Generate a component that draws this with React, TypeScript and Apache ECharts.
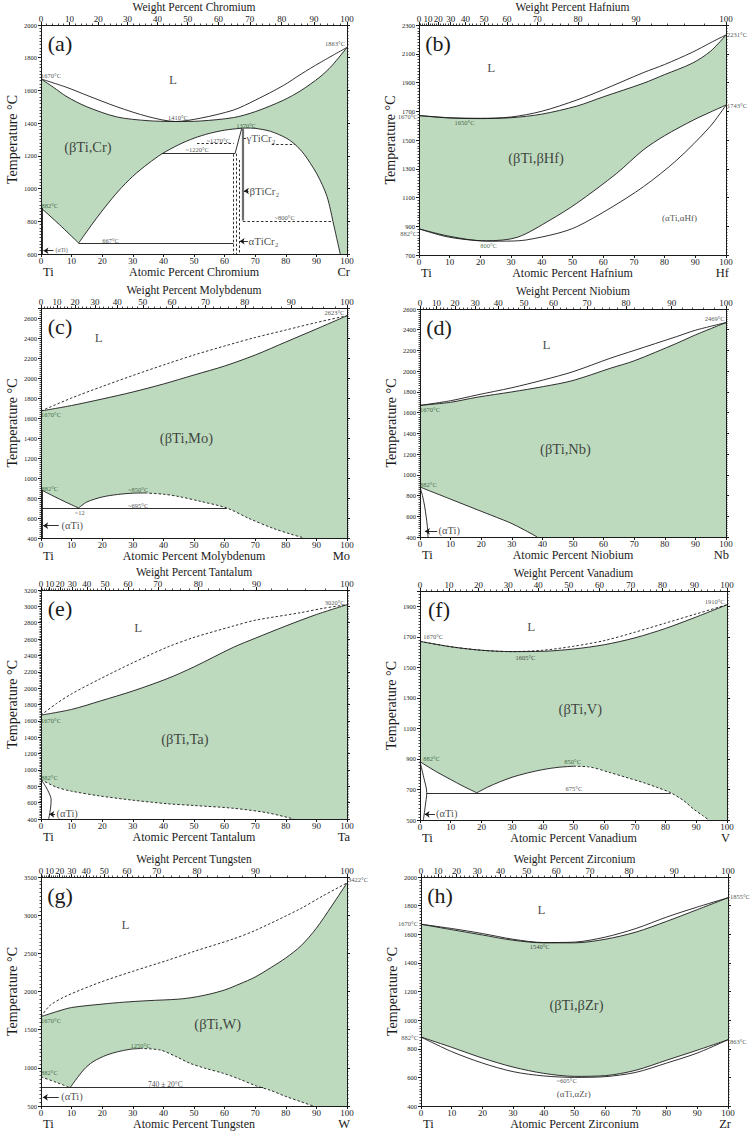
import React, { useEffect, useRef } from "react";
import * as echarts from "echarts";

type Pt = [number, number];
type Seg = [Pt, Pt, string?];
type Note = [number, number, string, string, string];
type Curve = { d: Pt[]; line?: "s" | "d"; area?: "g" | "w" };

const FONT = "'Liberation Serif', 'Times New Roman', serif";
const GREEN = "#bdd9be";
const INK = "#1a1a1a";
const DKGREEN = "#1f4a22";
const TI_MASS = 47.867;
const WEIGHT_LABELS = [0, 10, 20, 30, 40, 50, 60, 70, 80, 90, 100];
const WEIGHT_MINOR = Array.from({ length: 51 }, (_, i) => i * 2);

// ---------------- (a) Ti–Cr ----------------
const crLiquidus: Pt[] = [[0, 1670], [8.5, 1618], [15, 1570], [24.8, 1500], [35, 1440], [44, 1410], [52, 1430], [62.9, 1480], [70, 1540], [79.2, 1630], [85, 1700], [91.2, 1770], [100, 1863]];
const crSolidus: Pt[] = [[0, 1670], [4, 1620], [8.5, 1561], [15, 1500], [24.8, 1438], [35, 1415], [44, 1410], [52, 1413], [62.9, 1434], [70, 1470], [79.2, 1540], [85, 1600], [91.2, 1683], [95, 1750], [100, 1863]];
const crTransus: Pt[] = [[0, 882], [6, 780], [12.3, 667]];
const crDome: Pt[] = [[12.3, 667], [15, 738], [18, 815], [21, 888], [25.3, 985], [30, 1075], [35, 1152], [39.5, 1212], [45, 1268], [50, 1308], [55, 1337], [60, 1357], [65, 1368], [67, 1370], [70, 1368], [75, 1350], [80, 1310], [83, 1270], [86, 1210], [88, 1155], [90, 1095], [92, 1020], [93.5, 950], [94.6, 870], [95.4, 800], [96.6, 700], [97.8, 600]];
const crSegments: Seg[] = [
  [[0.4, 882], [0.4, 600]],
  [[12.3, 665], [62.9, 665]],
  [[39.5, 1213], [63.4, 1213]],
  [[63.4, 1213], [65.6, 1368]],
  [[66, 1368], [66, 805], "b"],
  [[66, 803], [95.4, 803], "d"],
  [[51, 1275], [63, 1275], "d"],
  [[75.4, 1271], [83, 1271], "d"],
  [[62.9, 1210], [62.9, 600], "d"],
  [[63.7, 1213], [63.7, 600], "d"],
  [[64.8, 1175], [64.8, 600], "d"],
  [[66.2, 1306], [67, 1306]],
];
const crArrows: Seg[] = [[[4.1, 620], [0.8, 620]], [[67.8, 985], [66.3, 985]], [[67.6, 678], [64.9, 678]]];
const crNotes: Note[] = [
  [0.2, 1690, "1670°C", "s", "left"], [99.5, 1885, "1863°C", "s", "right"], [44.9, 1432, "1410°C", "s", "center"],
  [67.2, 1383, "1370°C", "g", "center"], [58.1, 1290, "~1270°C", "s", "center"], [51.2, 1234, "~1220°C", "s", "center"],
  [0.3, 893, "882°C", "g", "left"], [79.8, 818, "~800°C", "s", "center"], [22.9, 680, "667°C", "s", "center"],
  [4.9, 620, "(αTi)", "a6", "left"], [67.3, 1306, "γTiCr₂", "cr", "left"], [68.3, 985, "βTiCr₂", "cr", "left"],
  [68, 678, "αTiCr₂", "cr", "left"], [43.3, 1663, "L", "L", "center"], [15.5, 1254, "(βTi,Cr)", "ph", "center"],
];

// ---------------- (b) Ti–Hf ----------------
const hfLiquidus: Pt[] = [[0, 1670], [10, 1655], [20, 1651], [30, 1660], [40, 1700], [51.4, 1778], [60, 1850], [73, 1968], [80, 2025], [89, 2110], [95, 2177], [100, 2231]];
const hfSolidus: Pt[] = [[0, 1670], [10, 1653], [20, 1649], [30, 1655], [40, 1680], [51.4, 1736], [60, 1800], [73, 1894], [80, 1955], [89, 2034], [95, 2118], [100, 2231]];
const hfBetaTransus: Pt[] = [[0, 882], [8, 832], [15, 808], [22, 799], [32, 823], [42.7, 943], [51.4, 1060], [64.4, 1268], [73, 1430], [80, 1530], [89.4, 1639], [95, 1695], [100, 1743]];
const hfAlphaTransus: Pt[] = [[0, 882], [10, 830], [22, 796], [30, 797], [35, 805], [45, 850], [51.4, 897], [62.2, 1025], [73.1, 1175], [84, 1361], [94.8, 1593], [100, 1743]];
const hfNotes: Note[] = [
  [-0.3, 1662, "1670°C", "s", "right"], [15, 1620, "1650°C", "g", "center"], [-0.5, 848, "882°C", "s", "right"],
  [22.8, 765, "800°C", "g", "center"], [100.5, 2230, "2231°C", "s", "left"], [100.5, 1736, "1743°C", "s", "left"],
  [23.7, 1999, "L", "L", "center"], [38.3, 1372, "(βTi,βHf)", "ph", "center"], [85, 955, "(αTi,αHf)", "it", "center"],
];

// ---------------- (c) Ti–Mo ----------------
const moLiquidus: Pt[] = [[0, 1670], [10, 1800], [20, 1915], [30, 2025], [41, 2140], [50, 2230], [60, 2320], [70, 2405], [80, 2480], [90, 2555], [100, 2623]];
const moSolidus: Pt[] = [[0, 1670], [10, 1725], [20, 1790], [30, 1860], [40, 1940], [50, 2030], [60, 2120], [70, 2230], [80, 2360], [90, 2490], [100, 2623]];
const moTransus: Pt[] = [[0, 882], [4, 820], [8, 760], [12.3, 700]];
const moDomeSolid: Pt[] = [[12.3, 700], [15, 760], [20, 810], [25, 835], [30, 848], [34, 850]];
const moDomeDashed: Pt[] = [[34, 850], [40, 838], [45, 815], [52, 767], [60.7, 700], [68, 595], [76, 495], [82, 435], [86, 400]];
const moSegments: Seg[] = [[[0.5, 882], [0.5, 400]], [[0.5, 697], [60.7, 697]]];
const moArrows: Seg[] = [[[5.8, 523], [0.7, 523]]];
const moNotes: Note[] = [
  [99.3, 2650, "2623°C", "s", "right"], [0.2, 1633, "1670°C", "g", "left"], [0.3, 890, "882°C", "g", "left"],
  [31.9, 883, "~850°C", "g", "center"], [31.9, 723, "~695°C", "s", "center"], [12.8, 650, "~12", "s", "center"],
  [6.9, 523, "(αTi)", "a", "left"], [19, 2400, "L", "L", "center"], [47.7, 1400, "(βTi,Mo)", "ph", "center"],
];

// ---------------- (d) Ti–Nb ----------------
const nbLiquidus: Pt[] = [[0, 1670], [10, 1715], [18.7, 1771], [30, 1840], [40.4, 1916], [50, 1995], [62.2, 2125], [70, 2200], [83.9, 2334], [90, 2395], [100, 2469]];
const nbSolidus: Pt[] = [[0, 1670], [10, 1700], [18.7, 1749], [30, 1800], [40.4, 1852], [50, 1910], [62.2, 2028], [70, 2100], [83.9, 2269], [90, 2350], [100, 2469]];
const nbTransus: Pt[] = [[0, 882], [10, 765], [18.7, 663], [25, 590], [29.6, 535], [34, 470], [38.3, 400]];
const nbAlpha: Pt[] = [[0, 882], [0.8, 800], [1.5, 700], [2, 600], [2.4, 500], [2.6, 400]];
const nbArrows: Seg[] = [[[5.6, 455], [1.6, 455]]];
const nbNotes: Note[] = [
  [99.7, 2501, "2469°C", "s", "right"], [0.2, 1627, "1670°C", "g", "left"], [0.2, 904, "882°C", "g", "left"],
  [41.5, 2253, "L", "L", "center"], [47.7, 1241, "(βTi,Nb)", "ph", "center"], [6.2, 455, "(αTi)", "a", "left"],
];

// ---------------- (e) Ti–Ta ----------------
const taLiquidus: Pt[] = [[0, 1670], [5, 1810], [10, 1930], [19.4, 2115], [30, 2310], [41.2, 2500], [50, 2620], [62.9, 2760], [70, 2830], [84.7, 2922], [92, 2975], [100, 3020]];
const taSolidus: Pt[] = [[0, 1670], [10, 1740], [19.4, 1843], [30, 1965], [41.2, 2115], [50, 2260], [62.9, 2500], [70, 2610], [80, 2760], [90, 2900], [100, 3020]];
const taTransus: Pt[] = [[0, 882], [5, 790], [10, 740], [19.4, 681], [30, 630], [41.2, 587], [50, 565], [62.9, 531], [73.8, 477], [82.6, 400]];
const taAlpha: Pt[] = [[0, 882], [1.5, 800], [2.6, 720], [3.3, 640], [3.2, 560], [2.9, 480], [2.5, 400]];
const taArrows: Seg[] = [[[4.6, 457], [2.7, 457]]];
const taNotes: Note[] = [
  [99.4, 3037, "3020°C", "s", "right"], [0.2, 1598, "1670°C", "g", "left"], [0.2, 905, "882°C", "g", "left"],
  [31.9, 2739, "L", "L", "center"], [47.2, 1374, "(βTi,Ta)", "ph", "center"], [5.2, 457, "(αTi)", "a", "left"],
];

// ---------------- (f) Ti–V ----------------
const vLiquidus: Pt[] = [[0, 1670], [10, 1635], [20, 1612], [30, 1603], [40, 1612], [50, 1638], [60, 1675], [70, 1730], [80, 1790], [90, 1850], [100, 1910]];
const vSolidus: Pt[] = [[0, 1670], [10, 1635], [20, 1612], [30, 1603], [40, 1605], [50, 1620], [60, 1648], [70, 1693], [80, 1755], [90, 1830], [100, 1910]];
const vTransus: Pt[] = [[0, 882], [5, 820], [10, 765], [14, 722], [18.5, 678]];
const vDomeSolid: Pt[] = [[18.5, 678], [22, 715], [26, 750], [30, 780], [35, 808], [40, 830], [45, 845], [50, 852]];
const vDomeDashed: Pt[] = [[50, 852], [55, 848], [62, 810], [67, 780], [72.9, 744], [77, 715], [81.6, 679], [86, 625], [89.2, 570], [92, 530], [94.1, 500]];
const vAlpha: Pt[] = [[0, 882], [1.2, 780], [2.2, 679], [1.7, 590], [1.1, 500]];
const vSegments: Seg[] = [[[2.2, 675], [81.6, 675]]];
const vArrows: Seg[] = [[[4.9, 537], [1.5, 537]]];
const vNotes: Note[] = [
  [99.4, 1928, "1910°C", "s", "right"], [1.2, 1699, "1670°C", "s", "left"], [34.5, 1563, "1605°C", "s", "center"],
  [1.2, 901, "882°C", "g", "left"], [49.9, 880, "850°C", "g", "center"], [50.3, 701, "675°C", "s", "center"],
  [36.4, 1766, "L", "L", "center"], [52.4, 1225, "(βTi,V)", "ph", "center"], [5.4, 537, "(αTi)", "a", "left"],
];

// ---------------- (g) Ti–W ----------------
const wLiquidus: Pt[] = [[0, 1670], [3, 1820], [8.5, 1945], [19.3, 2120], [30, 2265], [41, 2404], [50, 2525], [62.8, 2688], [70, 2800], [84.6, 3081], [92, 3250], [100, 3422]];
const wSolidus: Pt[] = [[0, 1670], [5, 1735], [10, 1790], [20, 1835], [27, 1860], [35, 1880], [45, 1900], [50, 1925], [55, 1965], [60, 2020], [65, 2100], [70, 2190], [75, 2310], [80, 2440], [85, 2600], [90, 2830], [95, 3120], [100, 3422]];
const wTransus: Pt[] = [[0, 882], [5, 810], [9.5, 740]];
const wDomeSolid: Pt[] = [[9.5, 740], [13.9, 972], [17, 1080], [21.5, 1168], [25, 1210], [29.1, 1243], [32.4, 1253]];
const wDomeDashed: Pt[] = [[32.4, 1253], [38.9, 1234], [44, 1150], [48.7, 1059], [54, 990], [59.6, 928], [65, 850], [70.4, 762], [75, 705], [80.2, 622], [85, 555], [88.9, 500]];
const wSegments: Seg[] = [[[0, 740], [72.6, 740]]];
const wArrows: Seg[] = [[[5.8, 614], [0.6, 614]]];
const wNotes: Note[] = [
  [100.5, 3460, "3422°C", "s", "left"], [0.2, 1617, "1670°C", "g", "left"], [0.2, 928, "882°C", "g", "left"],
  [32.7, 1290, "1250°C", "g", "center"], [40.8, 775, "740 ± 20°C", "t", "center"], [27.8, 2871, "L", "L", "center"],
  [57.9, 1574, "(βTi,W)", "ph", "center"], [6.8, 614, "(αTi)", "a", "left"],
];

// ---------------- (h) Ti–Zr ----------------
const zrLiquidus: Pt[] = [[0, 1670], [10, 1640], [20, 1605], [30, 1565], [40, 1542], [50, 1545], [60, 1580], [70, 1640], [80, 1720], [90, 1790], [100, 1855]];
const zrSolidus: Pt[] = [[0, 1670], [10, 1632], [20, 1595], [30, 1558], [40, 1540], [50, 1540], [60, 1565], [70, 1615], [80, 1690], [90, 1772], [100, 1855]];
const zrBetaTransus: Pt[] = [[0, 882], [10, 810], [20, 735], [30, 672], [40, 628], [50, 607], [60, 612], [70, 650], [80, 720], [90, 790], [100, 863]];
const zrAlphaTransus: Pt[] = [[0, 882], [10, 780], [20, 700], [30, 640], [40, 610], [50, 600], [60, 605], [70, 635], [80, 700], [90, 770], [100, 863]];
const zrNotes: Note[] = [
  [-0.8, 1673, "1670°C", "s", "right"], [100.8, 1860, "1855°C", "s", "left"], [38.8, 1510, "1540°C", "s", "center"],
  [-0.8, 873, "882°C", "s", "right"], [100.8, 850, "863°C", "s", "left"], [47.6, 573, "~605°C", "s", "center"],
  [49.9, 477, "(αTi,αZr)", "it", "center"], [39.4, 1766, "L", "L", "center"], [50.8, 1102, "(βTi,βZr)", "ph", "center"],
];

type Panel = {
  letter: string; name: string; sym: string; mass: number;
  yMin: number; yMax: number; yStep: number; rect: [number, number, number, number];
  curves: Curve[]; segments: Seg[]; arrows: Seg[]; notes: Note[];
};

const PANELS: Panel[] = [
  { letter: "(a)", name: "Chromium", sym: "Cr", mass: 51.996, yMin: 600, yMax: 2000, yStep: 200, rect: [41, 25, 306, 229],
    curves: [
      { d: crSolidus, area: "g", line: "s" }, { d: crLiquidus, line: "s" },
      { d: crTransus, area: "w", line: "s" }, { d: crDome, area: "w", line: "s" },
    ], segments: crSegments, arrows: crArrows, notes: crNotes },
  { letter: "(b)", name: "Hafnium", sym: "Hf", mass: 178.49, yMin: 700, yMax: 2300, yStep: 200, rect: [419, 25, 307, 230],
    curves: [
      { d: hfSolidus, area: "g", line: "s" }, { d: hfLiquidus, line: "s" },
      { d: hfBetaTransus, area: "w", line: "s" }, { d: hfAlphaTransus, line: "s" },
    ], segments: [], arrows: [], notes: hfNotes },
  { letter: "(c)", name: "Molybdenum", sym: "Mo", mass: 95.95, yMin: 400, yMax: 2700, yStep: 200, rect: [41, 308, 306, 230],
    curves: [
      { d: moSolidus, area: "g", line: "s" }, { d: moLiquidus, line: "d" },
      { d: moTransus, area: "w", line: "s" }, { d: moDomeSolid, area: "w", line: "s" },
      { d: moDomeDashed, area: "w", line: "d" },
    ], segments: moSegments, arrows: moArrows, notes: moNotes },
  { letter: "(d)", name: "Niobium", sym: "Nb", mass: 92.906, yMin: 400, yMax: 2600, yStep: 200, rect: [420, 309, 306, 228],
    curves: [
      { d: nbSolidus, area: "g", line: "s" }, { d: nbLiquidus, line: "s" },
      { d: nbTransus, area: "w", line: "s" }, { d: nbAlpha, line: "s" },
    ], segments: [], arrows: nbArrows, notes: nbNotes },
  { letter: "(e)", name: "Tantalum", sym: "Ta", mass: 180.948, yMin: 400, yMax: 3200, yStep: 200, rect: [41, 590, 306, 229],
    curves: [
      { d: taSolidus, area: "g", line: "s" }, { d: taLiquidus, line: "d" },
      { d: taTransus, area: "w", line: "d" }, { d: taAlpha, line: "s" },
    ], segments: [], arrows: taArrows, notes: taNotes },
  { letter: "(f)", name: "Vanadium", sym: "V", mass: 50.942, yMin: 500, yMax: 2000, yStep: 200, rect: [420, 591, 307, 229],
    curves: [
      { d: vSolidus, area: "g", line: "s" }, { d: vLiquidus, line: "d" },
      { d: vTransus, area: "w", line: "s" }, { d: vDomeSolid, area: "w", line: "s" },
      { d: vDomeDashed, area: "w", line: "d" }, { d: vAlpha, line: "s" },
    ], segments: vSegments, arrows: vArrows, notes: vNotes },
  { letter: "(g)", name: "Tungsten", sym: "W", mass: 183.84, yMin: 500, yMax: 3500, yStep: 500, rect: [41, 877, 306, 229],
    curves: [
      { d: wSolidus, area: "g", line: "s" }, { d: wLiquidus, line: "d" },
      { d: wTransus, area: "w", line: "d" }, { d: wDomeSolid, area: "w", line: "s" },
      { d: wDomeDashed, area: "w", line: "d" },
    ], segments: wSegments, arrows: wArrows, notes: wNotes },
  { letter: "(h)", name: "Zirconium", sym: "Zr", mass: 91.224, yMin: 400, yMax: 2000, yStep: 200, rect: [421, 877, 307, 229],
    curves: [
      { d: zrSolidus, area: "g", line: "s" }, { d: zrLiquidus, line: "s" },
      { d: zrBetaTransus, area: "w", line: "s" }, { d: zrAlphaTransus, line: "s" },
    ], segments: [], arrows: [], notes: zrNotes },
];

const NOTE_STYLE: Record<string, { fontSize: number; color: string }> = {
  s: { fontSize: 6.5, color: INK },
  g: { fontSize: 6.5, color: DKGREEN },
  t: { fontSize: 7.5, color: INK },
  L: { fontSize: 13, color: INK },
  ph: { fontSize: 14.5, color: INK },
  a: { fontSize: 10.5, color: INK },
  a6: { fontSize: 6, color: INK },
  it: { fontSize: 9, color: INK },
  cr: { fontSize: 11, color: INK },
};

const SMOOTH = 0.3;

function buildOption() {
  const grid: any[] = [];
  const xAxis: any[] = [];
  const yAxis: any[] = [];
  const series: any[] = [];
  const graphic: any[] = [];

  PANELS.forEach((p, i) => {
    const [l, t, w, h] = p.rect;
    grid.push({ left: l, top: t, width: w, height: h, outerBoundsMode: "none" });
    const m = p.mass;
    const wtToAt = (wt: number) => (wt <= 0 ? 0 : ((wt / m) / (wt / m + (100 - wt) / TI_MASS)) * 100);
    const atToWt = (at: number) => (at <= 0 ? 0 : ((at * m) / (at * m + (100 - at) * TI_MASS)) * 100);
    const majorAt = WEIGHT_LABELS.map(wtToAt);
    const minorAt = WEIGHT_MINOR.map(wtToAt);

    const xi = xAxis.length;
    const axisLine = { show: true, onZero: false, lineStyle: { color: INK, width: 1 } };
    xAxis.push({
      gridIndex: i, type: "value", position: "bottom", min: 0, max: 100, interval: 10, z: 10,
      name: "Atomic Percent " + p.name, nameLocation: "middle", nameGap: 11,
      nameTextStyle: { fontFamily: FONT, fontSize: 12, color: INK },
      axisLine, axisTick: { show: true, inside: false, length: 3, lineStyle: { color: INK } },
      axisLabel: { fontFamily: FONT, fontSize: 9, color: INK, margin: 2 },
      splitLine: { show: false },
    });
    xAxis.push({
      gridIndex: i, type: "value", position: "top", min: 0, max: 100, z: 10,
      name: "Weight Percent " + p.name, nameLocation: "middle", nameGap: 11,
      nameTextStyle: { fontFamily: FONT, fontSize: 11.5, color: INK },
      axisLine, axisTick: { show: true, length: 3, customValues: majorAt, lineStyle: { color: INK } },
      axisLabel: { show: true, customValues: majorAt, fontFamily: FONT, fontSize: 9, color: INK, margin: 2,
        formatter: (v: number) => String(Math.round(atToWt(v))) },
      splitLine: { show: false },
    });
    xAxis.push({
      gridIndex: i, type: "value", position: "top", min: 0, max: 100, z: 10,
      axisLine: { show: false, onZero: false },
      axisTick: { show: true, length: 1.5, customValues: minorAt, lineStyle: { color: INK, width: 0.8 } },
      axisLabel: { show: false }, splitLine: { show: false },
    });
    const yi = yAxis.length;
    const yFmt = (v: number) => ((v - p.yMin) % p.yStep === 0 ? String(v) : "");
    yAxis.push({
      gridIndex: i, type: "value", position: "left", min: p.yMin, max: p.yMax, interval: p.yStep, z: 10,
      name: "Temperature °C", nameLocation: "middle", nameGap: 22, nameRotate: 90,
      nameTextStyle: { fontFamily: FONT, fontSize: 14, color: INK },
      axisLine, axisTick: { show: true, length: 3, lineStyle: { color: INK } },
      minorTick: { show: true, splitNumber: 10, length: 1.5, lineStyle: { color: INK, width: 0.8 } },
      axisLabel: { fontFamily: FONT, fontSize: 6.5, color: INK, margin: 4, formatter: yFmt },
      splitLine: { show: false }, minorSplitLine: { show: false },
    });
    yAxis.push({
      gridIndex: i, type: "value", position: "right", min: p.yMin, max: p.yMax, interval: p.yStep, z: 10,
      axisLine, axisTick: { show: true, length: 3, lineStyle: { color: INK } },
      minorTick: { show: true, splitNumber: 10, length: 1.5, lineStyle: { color: INK, width: 0.8 } },
      axisLabel: { show: false }, splitLine: { show: false }, minorSplitLine: { show: false },
    });

    // filled regions (green under solidus, white under the lower phase boundary)
    const seams: Seg[] = [];
    let whiteCount = 0;
    p.curves.forEach((c) => {
      if (!c.area) return;
      if (c.area === "w") {
        if (whiteCount > 0) seams.push([c.d[0], [c.d[0][0], p.yMin]]);
        whiteCount += 1;
      }
      series.push({
        type: "line", xAxisIndex: xi, yAxisIndex: yi, data: c.d, symbol: "none", showSymbol: false,
        smooth: SMOOTH, silent: true,
        lineStyle: { width: 0, opacity: 0 },
        areaStyle: { color: c.area === "g" ? GREEN : "#ffffff", opacity: 1, origin: "start" },
        z: c.area === "g" ? 1 : 2,
      });
    });
    if (seams.length) {
      series.push({
        type: "lines", coordinateSystem: "cartesian2d", xAxisIndex: xi, yAxisIndex: yi, silent: true, z: 2,
        lineStyle: { color: "#ffffff", width: 1.6, opacity: 1 },
        data: seams.map((s) => ({ coords: [s[0], s[1]] })),
      });
    }
    // boundary curves
    p.curves.forEach((c) => {
      if (!c.line) return;
      series.push({
        type: "line", xAxisIndex: xi, yAxisIndex: yi, data: c.d, symbol: "none", showSymbol: false,
        smooth: SMOOTH, silent: true,
        lineStyle: { color: INK, width: 0.9, type: c.line === "d" ? [2.5, 2] : "solid" },
        z: 3,
      });
    });
    if (p.segments.length) {
      series.push({
        type: "lines", coordinateSystem: "cartesian2d", xAxisIndex: xi, yAxisIndex: yi, silent: true, z: 4,
        lineStyle: { color: INK, width: 0.9, opacity: 1 },
        data: p.segments.map((s) => ({
          coords: [s[0], s[1]],
          lineStyle: s[2] === "d" ? { type: [2.5, 2], color: INK, width: 0.9, opacity: 1 }
            : s[2] === "b" ? { color: "#6e6e6e", width: 2.2, opacity: 1 } : { color: INK, width: 0.9, opacity: 1 },
        })),
      });
    }
    if (p.arrows.length) {
      series.push({
        type: "lines", coordinateSystem: "cartesian2d", xAxisIndex: xi, yAxisIndex: yi, silent: true, z: 5,
        symbol: ["none", "arrow"], symbolSize: 5,
        lineStyle: { color: INK, width: 0.9, opacity: 1 },
        data: p.arrows.map((s) => ({ coords: [s[0], s[1]] })),
      });
    }
    series.push({
      type: "scatter", xAxisIndex: xi, yAxisIndex: yi, symbolSize: 1, clip: false, silent: true, z: 6,
      itemStyle: { color: "rgba(0,0,0,0)" },
      data: p.notes.map((n) => ({
        value: [n[0], n[1]],
        label: {
          show: true, formatter: n[2], position: [0, 0], align: n[4], verticalAlign: "middle",
          fontFamily: FONT, fontSize: NOTE_STYLE[n[3]].fontSize, color: NOTE_STYLE[n[3]].color,
        },
      })),
    });

    graphic.push({
      type: "text", x: l + 19, y: t + 18,
      style: { text: p.letter, fill: INK, font: `22px ${FONT}`, align: "center", verticalAlign: "middle", textAlign: "center", textVerticalAlign: "middle" },
    });
    graphic.push({
      type: "text", x: l + 2, y: t + h + 17.5,
      style: { text: "Ti", fill: INK, font: `12.5px ${FONT}`, align: "left", verticalAlign: "middle", textAlign: "left", textVerticalAlign: "middle" },
    });
    graphic.push({
      type: "text", x: l + w + 3, y: t + h + 17.5,
      style: { text: p.sym, fill: INK, font: `12.5px ${FONT}`, align: "right", verticalAlign: "middle", textAlign: "right", textVerticalAlign: "middle" },
    });
  });

  return {
    animation: false,
    backgroundColor: "#ffffff",
    textStyle: { fontFamily: FONT },
    grid, xAxis, yAxis, series, graphic,
  };
}

export default function App() {
  const ref = useRef<HTMLDivElement>(null);
  useEffect(() => {
    if (!ref.current) return;
    const chart = echarts.init(ref.current, undefined, { renderer: "svg" });
    chart.setOption(buildOption() as any);
    return () => chart.dispose();
  }, []);
  return (
    <div
      ref={ref}
      style={{ position: "absolute", left: 0, top: 0, width: 754, height: 1133, background: "#fff" }}
    />
  );
}
